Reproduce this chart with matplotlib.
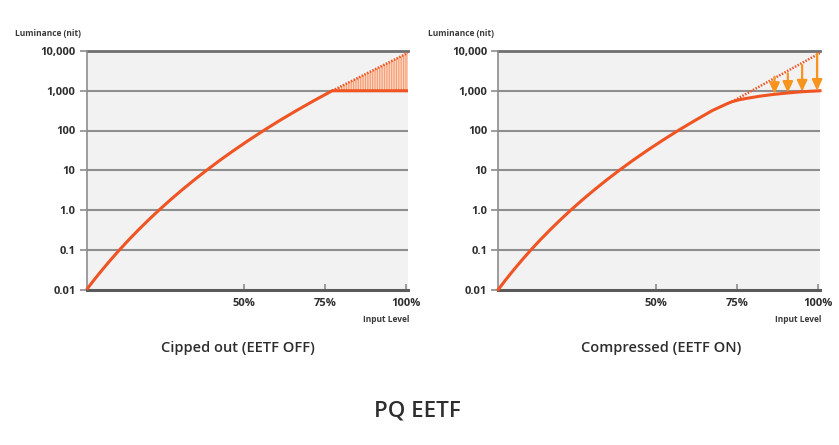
import matplotlib
matplotlib.use("Agg")
import matplotlib.pyplot as plt
from matplotlib.ticker import NullLocator

plt.rcParams['font.family'] = ['Open Sans', 'DejaVu Sans']
plt.rcParams['hatch.linewidth'] = 0.9

# ---------------- data ----------------
ytick_vals = [0.01, 0.1, 1, 10, 100, 1000, 10000]
ytick_labels = ["0.01", "0.1", "1.0", "10", "100", "1,000", "10,000"]
xtick_vals = [50, 75, 100]
xtick_labels = ["50%", "75%", "100%"]

# left chart: PQ curve up to the clip point (input %, luminance nit), quarter decades
off_x = [1.5, 3.86, 6.33, 8.92, 11.63, 14.47, 17.44, 20.55, 23.81, 27.22, 30.79,
         34.53, 38.44, 42.54, 46.83, 51.32, 56.02, 60.94, 66.09, 71.49, 77.14]
off_y = [0.01, 0.0178, 0.0316, 0.0562, 0.1, 0.178, 0.316, 0.562, 1.0, 1.78, 3.16,
         5.62, 10, 17.8, 31.6, 56.2, 100, 178, 316, 562, 1000]
clip_x = [77.14, 100.5]
clip_y = [1000, 1000]
lost_top = [1000, 9000]          # dotted upper edge of clipped area

# right chart: compressed curve
on_x = [1.5, 3.84, 6.30, 8.88, 11.59, 14.43, 17.42, 20.56, 23.85, 27.31, 30.94,
        34.75, 38.75, 42.95, 47.36, 51.99, 56.85, 62.0, 67.3, 71.6, 73.4, 75.5,
        78.0, 82.0, 86.5, 90.6, 95.0, 100.5]
on_y = [0.01, 0.0178, 0.0316, 0.0562, 0.1, 0.178, 0.316, 0.562, 1.0, 1.78, 3.16,
        5.62, 10, 17.8, 31.6, 56.2, 100, 178, 316, 460, 530, 590,
        645, 730, 815, 880, 945, 1000]
dot_x = [73.4, 100.5]
dot_y = [530, 8900]
arrow_x = [86.5, 90.6, 95.0, 99.6]
arrow_top = [2250, 2750, 4450, 8400]
arrow_tip = [830, 890, 955, 1000]

titles = ["Cipped out (EETF OFF)", "Compressed (EETF ON)"]
main_title = "PQ EETF"

# ---------------- styling ----------------
W, H = 839, 445
CURVE = '#f05423'
ARROW = '#f7941d'
BG = '#f2f2f3'
GRID = '#8e8e8e'
TXT = '#2e2e2e'

fig = plt.figure(figsize=(W / 100, H / 100), dpi=100)


def fx(x):
    return x / W


def fy(y):
    return 1 - y / H


def make_ax(left_px, right_px):
    top_px, bot_px = 51, 289.5
    ax = fig.add_axes([fx(left_px), fy(bot_px), (right_px - left_px) / W, (bot_px - top_px) / H])
    ax.set_yscale('log')
    ax.set_ylim(0.01, 10000)
    ax.set_xlim(1.5, 100.5)
    ax.set_facecolor(BG)
    for s in ['top', 'right']:
        ax.spines[s].set_visible(False)
    ax.spines['left'].set_color('#8c8c8c')
    ax.spines['left'].set_linewidth(1.2)
    ax.spines['bottom'].set_color('#5a5a5a')
    ax.spines['bottom'].set_linewidth(2.2)
    for v in ytick_vals[1:-1]:
        ax.axhline(v, color=GRID, lw=1.5, zorder=1)
    ax.axhline(ytick_vals[-1], color='#707070', lw=2, zorder=1, clip_on=False)
    ax.yaxis.set_minor_locator(NullLocator())
    ax.set_yticks(ytick_vals)
    ax.set_yticklabels(ytick_labels)
    ax.tick_params(axis='y', length=5, width=1.2, color='#8c8c8c', pad=3,
                   labelsize=8, labelcolor=TXT)
    ax.set_xticks(xtick_vals)
    ax.set_xticklabels(xtick_labels)
    ax.tick_params(axis='x', direction='in', length=4, width=1.2, color='#8c8c8c',
                   pad=6, labelsize=8, labelcolor=TXT)
    for lab in ax.get_xticklabels() + ax.get_yticklabels():
        lab.set_fontweight('bold')
    return ax


ax1 = make_ax(86.7, 408)
ax2 = make_ax(498.3, 820)

# left chart
ax1.fill_between(clip_x, clip_y, lost_top, facecolor='#fcd9c6', edgecolor='#f4a078',
                 hatch='|||||||', lw=0, zorder=2)
ax1.plot(clip_x, lost_top, color=CURVE, lw=1.8, linestyle=(0, (0.6, 0.6)), zorder=3)
ax1.plot(off_x + clip_x[1:], off_y + clip_y[1:], color=CURVE, lw=2.2,
         solid_joinstyle='round', solid_capstyle='butt', zorder=4, clip_on=False)

# right chart
ax2.plot(dot_x, dot_y, color=CURVE, lw=1.8, linestyle=(0, (0.6, 0.6)), zorder=3)
ax2.plot(on_x, on_y, color=CURVE, lw=2.2, solid_joinstyle='round', zorder=4, clip_on=False)
for x, t, b in zip(arrow_x, arrow_top, arrow_tip):
    ax2.annotate('', xy=(x, b), xytext=(x, t),
                 arrowprops=dict(arrowstyle='-|>,head_width=0.3,head_length=0.65',
                                 color=ARROW, lw=1.6, shrinkA=0, shrinkB=0), zorder=5)

# axis captions
for left_px, right_px in [(15, 408), (428, 820)]:
    fig.text(fx(left_px), fy(34), "Luminance (nit)", fontsize=6, fontweight='bold',
             color='#3a3a3a', ha='left', va='center')
    fig.text(fx(right_px + 1), fy(319), "Input Level", fontsize=6, fontweight='bold',
             color='#3a3a3a', ha='right', va='center')

fig.text(fx(238), fy(348), titles[0], fontsize=10.5, fontweight='semibold',
         color=TXT, ha='center', va='center')
fig.text(fx(661), fy(348), titles[1], fontsize=10.5, fontweight='semibold',
         color=TXT, ha='center', va='center')
fig.text(fx(417), fy(411), main_title, fontsize=16, fontweight='semibold',
         color=TXT, ha='center', va='center')

fig.savefig('out.png', dpi=100, facecolor='white')
